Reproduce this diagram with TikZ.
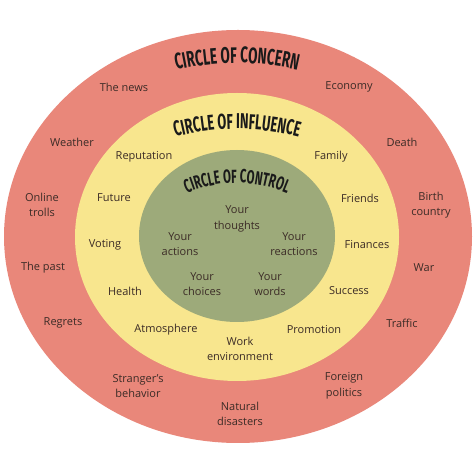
\documentclass[tikz,border=0pt]{standalone}
\usepackage{fontspec}
\setmainfont{Open Sans}
\newfontfamily\titlefont[FakeStretch=0.6]{Fira Sans}
\usetikzlibrary{decorations.text}
\definecolor{concernred}{HTML}{E9877A}
\definecolor{influenceyellow}{HTML}{F8E68E}
\definecolor{controlgreen}{HTML}{9DAA7A}
\definecolor{labeltext}{HTML}{3B2B26}
\definecolor{titletext}{HTML}{1A1A1A}
\tikzset{
  ringlabel/.style={font=\fontsize{11}{15.5}\selectfont, text=labeltext, align=center, inner sep=0pt},
  ringtitle/.style={decorate, decoration={text along path, text align=center, text color=titletext, text={#1}}}
}
\begin{document}
\begin{tikzpicture}[x=1pt,y=1pt]
\useasboundingbox[fill=white] (0,0) rectangle (474,474);
%
\fill[concernred] (238,237.5) ellipse [x radius=234pt, y radius=206.5pt];
\fill[influenceyellow] (237,237) ellipse [x radius=162pt, y radius=144pt];
\fill[controlgreen] (237,238) ellipse [x radius=98pt, y radius=86pt];
%
\path[ringtitle={|\titlefont\bfseries\fontsize{22.5pt}{22pt}\selectfont|CIRCLE OF CONCERN}]
  ([shift={(125:270pt)}]237,141) arc[start angle=125, end angle=55, radius=270pt];
\path[ringtitle={|\titlefont\bfseries\fontsize{21.5pt}{22pt}\selectfont|CIRCLE OF INFLUENCE}]
  ([shift={(125:240pt)}]237,105) arc[start angle=125, end angle=55, radius=240pt];
\path[ringtitle={|\titlefont\bfseries\fontsize{19pt}{20pt}\selectfont|CIRCLE OF CONTROL}]
  ([shift={(140:128pt)}]237,163) arc[start angle=140, end angle=40, radius=128pt];
%
\node[ringlabel] (news) at (124,387) {The news};
\node[ringlabel] (economy) at (349,387) {Economy};
\node[ringlabel] (weather) at (72,332) {Weather};
\node[ringlabel] (death) at (402,332) {Death};
\node[ringlabel] (trolls) at (42,269) {Online\\trolls};
\node[ringlabel] (birth) at (431,269) {Birth\\country};
\node[ringlabel] (past) at (43,206) {The past};
\node[ringlabel] (war) at (424,206) {War};
\node[ringlabel] (regrets) at (63,151) {Regrets};
\node[ringlabel] (traffic) at (402,151) {Traffic};
\node[ringlabel] (stranger) at (138,88) {Stranger's\\behavior};
\node[ringlabel] (foreign) at (344,88) {Foreign\\politics};
\node[ringlabel] (natural) at (240,60) {Natural\\disasters};
%
\node[ringlabel] (reputation) at (144,317) {Reputation};
\node[ringlabel] (family) at (331,317) {Family};
\node[ringlabel] (future) at (114,276) {Future};
\node[ringlabel] (friends) at (360,276) {Friends};
\node[ringlabel] (voting) at (105,229) {Voting};
\node[ringlabel] (finances) at (367,229) {Finances};
\node[ringlabel] (health) at (125,183) {Health};
\node[ringlabel] (success) at (349,183) {Success};
\node[ringlabel] (atmosphere) at (166,144) {Atmosphere};
\node[ringlabel] (promotion) at (314,144) {Promotion};
\node[ringlabel] (workenv) at (240,125) {Work\\environment};
%
\node[ringlabel] (thoughts) at (237,255) {Your\\thoughts};
\node[ringlabel] (actions) at (180,230) {Your\\actions};
\node[ringlabel] (reactions) at (294,230) {Your\\reactions};
\node[ringlabel] (choices) at (202,190) {Your\\choices};
\node[ringlabel] (words) at (270,190) {Your\\words};
%
\end{tikzpicture}
\end{document}
